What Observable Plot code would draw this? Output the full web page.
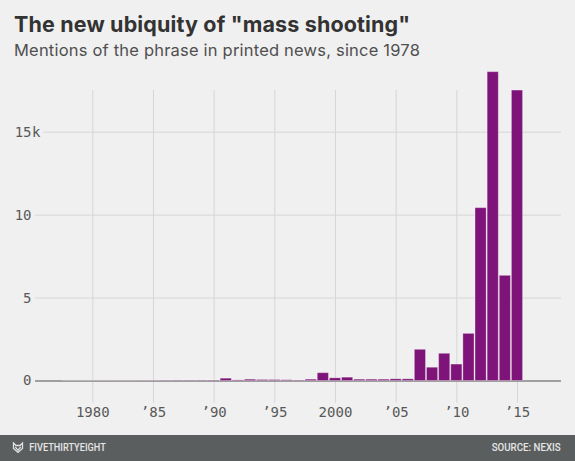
<!DOCTYPE html>
<html>
<head>
<meta charset="utf-8">
<script src="https://cdn.jsdelivr.net/npm/d3@7"></script>
<script src="https://cdn.jsdelivr.net/npm/@observablehq/plot@0.6"></script>
<style>
  html, body { margin: 0; padding: 0; background: #f0f0f0; }
  #page { position: relative; width: 575px; height: 461px; background: #f0f0f0; overflow: hidden; }
  #title { position: absolute; left: 14px; top: 14px; font: 700 21.5px/21.5px Inter, Roboto, sans-serif; letter-spacing: 0.15px; color: #333; white-space: nowrap; }
  #subtitle { position: absolute; left: 14px; top: 42px; font: 400 16.5px/16.5px Inter, Roboto, sans-serif; letter-spacing: 0.2px; color: #4f4f4f; white-space: nowrap; }
  #chart { position: absolute; left: 0; top: 60px; }
  #footer { position: absolute; left: 0; top: 435px; }
</style>
</head>
<body>
<div id="page">
  <div id="title">The new ubiquity of "mass shooting"</div>
  <div id="subtitle">Mentions of the phrase in printed news, since 1978</div>
  <div id="chart"></div>
  <svg id="footer" width="575" height="26" xmlns="http://www.w3.org/2000/svg">
    <rect x="0" y="0" width="575" height="26" fill="#5b5e5f"></rect>
    <path d="M13.5,8 L16,10.5 L20,10.5 L22.5,8 L22.5,13.5 L18,17.5 L13.5,13.5 Z M15.3,12 L18,15.3 L20.7,12" fill="none" stroke="#e2e2e2" stroke-width="1.3"></path>
    <text x="29.3" y="16.3" textLength="76.5" lengthAdjust="spacingAndGlyphs" font-family="Roboto, sans-serif" font-weight="500" font-size="11" fill="#e6e6e6">FIVETHIRTYEIGHT</text>
    <text x="491.7" y="16.3" textLength="69" lengthAdjust="spacingAndGlyphs" font-family="Roboto, sans-serif" font-weight="500" font-size="11" fill="#e6e6e6">SOURCE: NEXIS</text>
  </svg>
</div>
<script>
const years = [1978,1979,1980,1981,1982,1983,1984,1985,1986,1987,1988,1989,1990,
  1991,1992,1993,1994,1995,1996,1997,1998,1999,2000,2001,2002,2003,2004,2005,2006,
  2007,2008,2009,2010,2011,2012,2013,2014,2015];
const mentions = [4,4,5,5,6,6,8,10,15,18,20,22,25,
  140,35,80,60,55,45,25,80,470,160,200,80,80,80,100,100,
  1880,800,1640,990,2840,10420,18620,6340,17510];
const xTicks = [1980,1985,1990,1995,2000,2005,2010,2015];
const xTickLabels = ["1980","’85","’90","’95","2000","’05","’10","’15"];
const yTicks = [0,5000,10000,15000];
const yTickLabels = ["0","5","10","15"];
const yTopSuffix = "k";

const data = years.map((year, i) => ({year, value: mentions[i]}));
const xDomain = [1975.278, 2018.627];
const yDomain = [0, 17514];

const chart = Plot.plot({
  width: 575,
  height: 375,
  marginTop: 30,
  marginBottom: 54.5,
  marginLeft: 35,
  marginRight: 14,
  style: {background: "transparent", fontFamily: "'DejaVu Sans Mono', monospace", fontSize: "14px", color: "#595959"},
  x: {domain: xDomain, axis: null},
  y: {domain: yDomain, axis: null},
  marks: [
    Plot.ruleX(xTicks, {y1: -1338, y2: yDomain[1], stroke: "#d6d6d6", strokeWidth: 1}),
    Plot.ruleY([5000, 10000], {stroke: "#d6d6d6", strokeWidth: 1}),
    Plot.ruleY([15000], {x1: 1975.962, x2: xDomain[1], stroke: "#d6d6d6", strokeWidth: 1}),
    Plot.ruleY([0], {stroke: "#858585", strokeWidth: 1.5}),
    Plot.rectY(data, {x1: d => d.year - 0.5, x2: d => d.year + 0.5, y: "value", fill: "#7e1479", stroke: "#ffffff", strokeOpacity: 0.3, strokeWidth: 1, insetLeft: 0.5, insetRight: 0.5}),
    Plot.axisX({ticks: xTicks, tickFormat: d => xTickLabels[xTicks.indexOf(d)], tickSize: 0, tickPadding: 26, fill: "#595959", label: null}),
    Plot.axisY({ticks: yTicks, tickFormat: d => yTickLabels[yTicks.indexOf(d)], tickSize: 0, tickPadding: 4, fill: "#595959", label: null}),
    Plot.text([15000], {y: d => d, text: () => yTopSuffix, frameAnchor: "left", textAnchor: "start", dx: -3.5, fill: "#595959"})
  ]
});
document.getElementById("chart").appendChild(chart);
</script>
</body>
</html>
